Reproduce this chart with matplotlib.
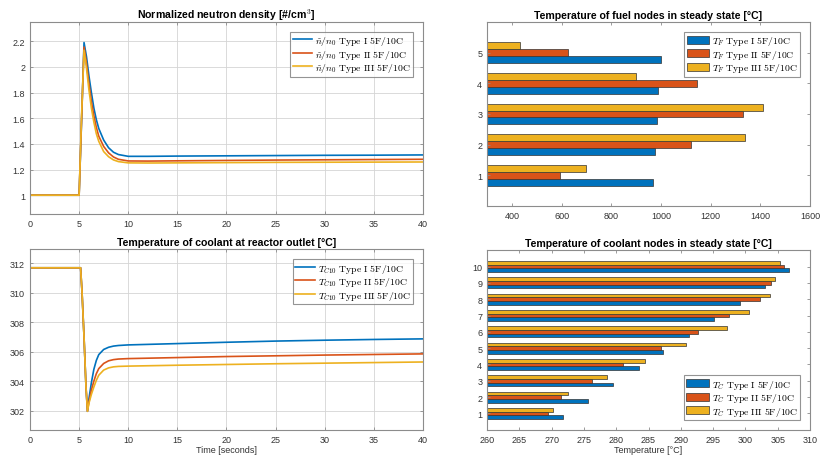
import matplotlib
matplotlib.use("Agg")
import matplotlib.pyplot as plt
import numpy as np

plt.rcParams['font.family'] = ['Liberation Sans', 'DejaVu Sans']
plt.rcParams['mathtext.fontset'] = 'cm'

# MATLAB default colours
colors = ['#0072BD', '#D95319', '#EDB120']
types = ['I', 'II', 'III']

# normalized neutron density
t_n = [0, 5, 5.25, 5.5, 5.75, 6, 6.25, 6.5, 6.75, 7, 7.5, 8, 8.5, 9, 10, 12, 15, 20, 25, 30, 35, 40]
n_type1 = [1, 1, 1.58, 2.19, 2.08, 1.93, 1.80, 1.68, 1.59, 1.52, 1.43, 1.37, 1.335, 1.317, 1.303,
           1.303, 1.305, 1.307, 1.309, 1.311, 1.312, 1.314]
n_type2 = [1, 1, 1.59, 2.155, 2.03, 1.87, 1.73, 1.62, 1.53, 1.46, 1.38, 1.33, 1.298, 1.28, 1.267,
           1.266, 1.268, 1.271, 1.274, 1.276, 1.278, 1.28]
n_type3 = [1, 1, 1.62, 2.13, 1.99, 1.82, 1.68, 1.57, 1.48, 1.42, 1.34, 1.30, 1.275, 1.262, 1.252,
           1.251, 1.252, 1.254, 1.256, 1.257, 1.258, 1.259]

# coolant temperature at reactor outlet
t_c = [0, 5.15, 5.3, 5.5, 5.7, 5.85, 6, 6.25, 6.5, 6.75, 7, 7.5, 8, 8.5, 9, 10, 15, 20, 25, 30, 35, 40]
tc_type1 = [311.7, 311.7, 310.0, 307.0, 303.6, 301.95, 302.8, 303.9, 304.8, 305.4, 305.8, 306.15,
            306.3, 306.38, 306.42, 306.46, 306.55, 306.64, 306.72, 306.78, 306.83, 306.87]
tc_type2 = [311.7, 311.7, 310.0, 307.0, 303.6, 301.95, 302.6, 303.4, 304.0, 304.5, 304.85, 305.2,
            305.38, 305.46, 305.5, 305.53, 305.6, 305.67, 305.72, 305.77, 305.81, 305.85]
tc_type3 = [311.7, 311.7, 310.0, 307.0, 303.6, 301.95, 302.5, 303.1, 303.6, 304.05, 304.4, 304.75,
            304.9, 304.97, 305.0, 305.02, 305.08, 305.13, 305.18, 305.22, 305.26, 305.3]

# steady state fuel nodes
fuel_nodes = [1, 2, 3, 4, 5]
fuel_type1 = [968, 977, 984, 990, 1000]
fuel_type2 = [592, 1122, 1332, 1144, 626]
fuel_type3 = [700, 1337, 1409, 898, 434]

# steady state coolant nodes
cool_nodes = [1, 2, 3, 4, 5, 6, 7, 8, 9, 10]
cool_type1 = [271.7, 275.6, 279.5, 283.5, 287.3, 291.2, 295.2, 299.1, 303.0, 306.8]
cool_type2 = [269.5, 271.4, 276.2, 281.0, 286.9, 292.7, 297.4, 302.2, 304.0, 305.9]
cool_type3 = [270.2, 272.6, 278.6, 284.5, 290.8, 297.1, 300.5, 303.8, 304.5, 305.3]

fig = plt.figure(figsize=(8.22, 4.6), dpi=100)
ax1 = fig.add_axes([0.0365, 0.533, 0.478, 0.417])
ax2 = fig.add_axes([0.5925, 0.550, 0.393, 0.400])
ax3 = fig.add_axes([0.0365, 0.0637, 0.478, 0.392])
ax4 = fig.add_axes([0.5925, 0.0637, 0.393, 0.390])

title_kw = dict(fontsize=7.6, fontweight='bold', pad=3, color='black')


def style(ax, grid):
    for s in ax.spines.values():
        s.set_color('#8c8c8c')
        s.set_linewidth(0.8)
    ax.tick_params(direction='in', length=2.5, width=0.6, colors='#8c8c8c',
                   labelcolor='#333333', labelsize=6.5, top=True, right=True, pad=3.5)
    if grid:
        ax.grid(True, color='#d4d4d4', linewidth=0.6)
        ax.set_axisbelow(True)


def leg(ax, loc, patches=False):
    lg = ax.legend(loc=loc, fontsize=7, frameon=True, fancybox=False, borderpad=0.25,
                   labelspacing=0.05, handlelength=2.3 if patches else 2.0,
                   handleheight=0.9, handletextpad=0.3, borderaxespad=1.0)
    lg.get_frame().set_edgecolor('#7a7a7a')
    lg.get_frame().set_linewidth(0.8)
    return lg


# neutron density
for vals, c, ty in zip([n_type1, n_type2, n_type3], colors, types):
    ax1.plot(t_n, vals, color=c, lw=1.2,
             label=r'$\tilde{n}/n_0\ \mathrm{Type\ %s\ 5F/10C}$' % ty)
ax1.set_xlim(0, 40)
ax1.set_ylim(0.855, 2.35)
ax1.set_xticks(np.arange(0, 41, 5))
ax1.set_yticks([1, 1.2, 1.4, 1.6, 1.8, 2, 2.2])
ax1.set_yticklabels(['1', '1.2', '1.4', '1.6', '1.8', '2', '2.2'])
ax1.set_title('Normalized neutron density [#/cm$^3$]', **title_kw)
style(ax1, True)
leg(ax1, 'upper right')

# coolant outlet temperature
for vals, c, ty in zip([tc_type1, tc_type2, tc_type3], colors, types):
    ax3.plot(t_c, vals, color=c, lw=1.2,
             label=r'$T_{C10}\ \mathrm{Type\ %s\ 5F/10C}$' % ty)
ax3.set_xlim(0, 40)
ax3.set_ylim(300.7, 312.95)
ax3.set_xticks(np.arange(0, 41, 5))
ax3.set_yticks([302, 304, 306, 308, 310, 312])
ax3.set_xlabel('Time [seconds]', fontsize=6.5, color='#333333', labelpad=1)
ax3.set_title('Temperature of coolant at reactor outlet [°C]', **title_kw)
style(ax3, True)
leg(ax3, 'upper right')

# fuel nodes bars
bh = 0.222
for k, (vals, c, ty) in enumerate(zip([fuel_type1, fuel_type2, fuel_type3], colors, types)):
    pos = np.array(fuel_nodes) + (k - 1) * bh
    ax2.barh(pos, vals, height=bh, color=c, edgecolor='#333333', linewidth=0.5,
             label=r'$T_F\ \mathrm{Type\ %s\ 5F/10C}$' % ty)
ax2.set_xlim(300, 1600)
ax2.set_ylim(0, 6)
ax2.set_xticks(np.arange(400, 1601, 200))
ax2.set_yticks(fuel_nodes)
ax2.set_title('Temperature of fuel nodes in steady state [°C]', **title_kw)
style(ax2, False)
leg(ax2, 'upper right', patches=True)

# coolant nodes bars
for k, (vals, c, ty) in enumerate(zip([cool_type1, cool_type2, cool_type3], colors, types)):
    pos = np.array(cool_nodes) + (k - 1) * bh
    ax4.barh(pos, vals, height=bh, color=c, edgecolor='#333333', linewidth=0.5,
             label=r'$T_C\ \mathrm{Type\ %s\ 5F/10C}$' % ty)
ax4.set_xlim(260, 310)
ax4.set_ylim(0, 11)
ax4.set_xticks(np.arange(260, 311, 5))
ax4.set_yticks(cool_nodes)
ax4.set_xlabel('Temperature [°C]', fontsize=6.5, color='#333333', labelpad=1)
ax4.set_title('Temperature of coolant nodes in steady state [°C]', **title_kw)
style(ax4, False)
leg(ax4, 'lower right', patches=True)

fig.savefig('out.png', dpi=100)
